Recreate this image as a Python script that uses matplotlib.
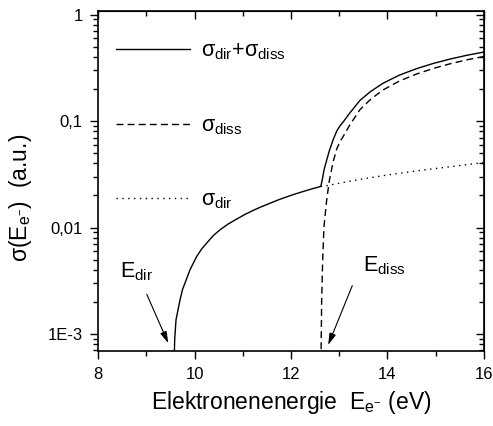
import numpy as np
import matplotlib
matplotlib.use('Agg')
import matplotlib.pyplot as plt
from matplotlib.ticker import FixedLocator, LogLocator, FuncFormatter, NullFormatter

plt.rcParams['font.family'] = ['Liberation Sans', 'DejaVu Sans']
plt.rcParams['mathtext.fontset'] = 'custom'
plt.rcParams['mathtext.rm'] = 'Liberation Sans'
plt.rcParams['mathtext.it'] = 'Liberation Sans'
plt.rcParams['mathtext.bf'] = 'Liberation Sans:bold'

# direct ionisation, below the dissociation threshold
e_low = [9.575, 9.58, 9.59, 9.617, 9.66, 9.70, 9.75, 9.803, 9.907, 10.045,
         10.15, 10.253, 10.39, 10.528, 10.70, 10.874, 11.05, 11.219, 11.39,
         11.565, 11.74, 11.91, 12.08, 12.255, 12.44]
dir_low = [0.0, 0.0006, 0.0009, 0.00136, 0.0017, 0.00209, 0.0026, 0.00301,
           0.00401, 0.00535, 0.0063, 0.00714, 0.0084, 0.00951, 0.0108, 0.0120,
           0.0133, 0.0145, 0.0157, 0.0169, 0.0182, 0.0194, 0.0206, 0.0218,
           0.0231]

# above the dissociation threshold both channels contribute
e_high = [12.615, 12.625, 12.636, 12.657, 12.684, 12.74, 12.794, 12.877,
          12.95, 13.015, 13.085, 13.22, 13.43, 13.65, 13.91, 14.25, 14.6,
          14.95, 15.3, 15.65, 16.0]
dir_high = [0.0243, 0.0243, 0.0244, 0.0244, 0.0245, 0.0247, 0.0250, 0.0254,
            0.0258, 0.0261, 0.0265, 0.0272, 0.0283, 0.0294, 0.0307, 0.0323,
            0.0340, 0.0356, 0.0372, 0.0390, 0.0407]
diss_high = [0.0, 0.0008, 0.0021, 0.0050, 0.0102, 0.0182, 0.0275, 0.042,
             0.055, 0.064, 0.072, 0.092, 0.128, 0.160, 0.196, 0.238, 0.276,
             0.312, 0.345, 0.376, 0.404]

ytick_vals = [1e-3, 1e-2, 1e-1, 1]
ytick_text = ['1E-3', '0,01', '0,1', '1']

e_low = np.array(e_low)
e_high = np.array(e_high)
dir_low = np.array(dir_low)
dir_high = np.array(dir_high)
diss_high = np.array(diss_high)
total_high = dir_high + diss_high

e_total = np.concatenate([e_low, e_high])
total = np.concatenate([dir_low, total_high])

fig = plt.figure(figsize=(4.93, 4.26), dpi=100)
ax = fig.add_axes([0.1988, 0.1768, 0.7829, 0.7974])
ax.set_yscale('log', nonpositive='clip')

l1, = ax.plot(e_total, total, '-', color='k', lw=1.0)
l2, = ax.plot(e_high, diss_high, color='k', lw=1.0, dashes=(5, 3))
l3, = ax.plot(e_high, dir_high, color='k', lw=1.0, dashes=(1, 3.2))

ax.set_xlim(8, 16)
ax.set_ylim(6.97e-4, 1.08)

ax.xaxis.set_major_locator(FixedLocator([8, 10, 12, 14, 16]))
ax.xaxis.set_minor_locator(FixedLocator([9, 11, 13, 15]))
ax.yaxis.set_major_locator(FixedLocator(ytick_vals))
ax.yaxis.set_major_formatter(FuncFormatter(lambda v, p: ytick_text[ytick_vals.index(v)] if v in ytick_vals else ''))
ax.yaxis.set_minor_locator(LogLocator(base=10, subs=np.arange(2, 10)))
ax.yaxis.set_minor_formatter(NullFormatter())

for sp in ax.spines.values():
    sp.set_linewidth(1.2)

ax.tick_params(which='both', labelsize=12, width=1.0)
ax.tick_params(axis='x', which='major', length=6, pad=6)
ax.tick_params(axis='x', which='minor', length=3.5)
ax.tick_params(axis='y', which='major', length=6, pad=5)
ax.tick_params(axis='y', which='minor', length=3.5)

# inward ticks on the top and right edges
top = ax.secondary_xaxis('top')
top.xaxis.set_major_locator(FixedLocator([8, 10, 12, 14, 16]))
top.xaxis.set_minor_locator(FixedLocator([9, 11, 13, 15]))
top.tick_params(which='both', direction='in', labeltop=False, width=1.0)
top.tick_params(which='major', length=6)
top.tick_params(which='minor', length=3.5)
right = ax.secondary_yaxis('right')
right.yaxis.set_major_locator(FixedLocator(ytick_vals))
right.yaxis.set_minor_locator(LogLocator(base=10, subs=np.arange(2, 10)))
right.yaxis.set_minor_formatter(NullFormatter())
right.tick_params(which='both', direction='in', labelright=False, width=1.0)
right.tick_params(which='major', length=6)
right.tick_params(which='minor', length=3.5)

ax.set_xlabel(r'Elektronenenergie  E$_{\mathrm{e}^{\mathrm{-}}}$ (eV)', fontsize=16.5)
ax.set_ylabel(r'$\sigma$(E$_{\mathrm{e}^{\mathrm{-}}}$)  (a.u.)', fontsize=16.5)
ax.xaxis.set_label_coords(0.5, -0.112)
ax.yaxis.set_label_coords(-0.165, 0.45)

ax.legend([l1, l2, l3],
          [r'$\sigma_{\mathrm{dir}}$+$\sigma_{\mathrm{diss}}$',
           r'$\sigma_{\mathrm{diss}}$',
           r'$\sigma_{\mathrm{dir}}$'],
          loc='upper left', bbox_to_anchor=(0.046, 0.912), borderpad=0,
          borderaxespad=0, frameon=False, fontsize=15.5,
          handlelength=3.45, handletextpad=0.5, labelspacing=2.45)

# threshold markers
ax.text(8.456, 0.00342, r'E$_{\mathrm{dir}}$', fontsize=15.5, ha='left', va='baseline')
ax.annotate('', xy=(9.457, 0.000818), xytext=(9.01, 0.00236),
            arrowprops=dict(arrowstyle='-|>,head_length=0.7,head_width=0.2',
                            color='k', lw=0.8, shrinkA=0, shrinkB=0))
ax.text(13.5, 0.00386, r'E$_{\mathrm{diss}}$', fontsize=15.5, ha='left', va='baseline')
ax.annotate('', xy=(12.77, 0.000788), xytext=(13.27, 0.00284),
            arrowprops=dict(arrowstyle='-|>,head_length=0.7,head_width=0.2',
                            color='k', lw=0.8, shrinkA=0, shrinkB=0))

fig.savefig('out.png', dpi=100)
